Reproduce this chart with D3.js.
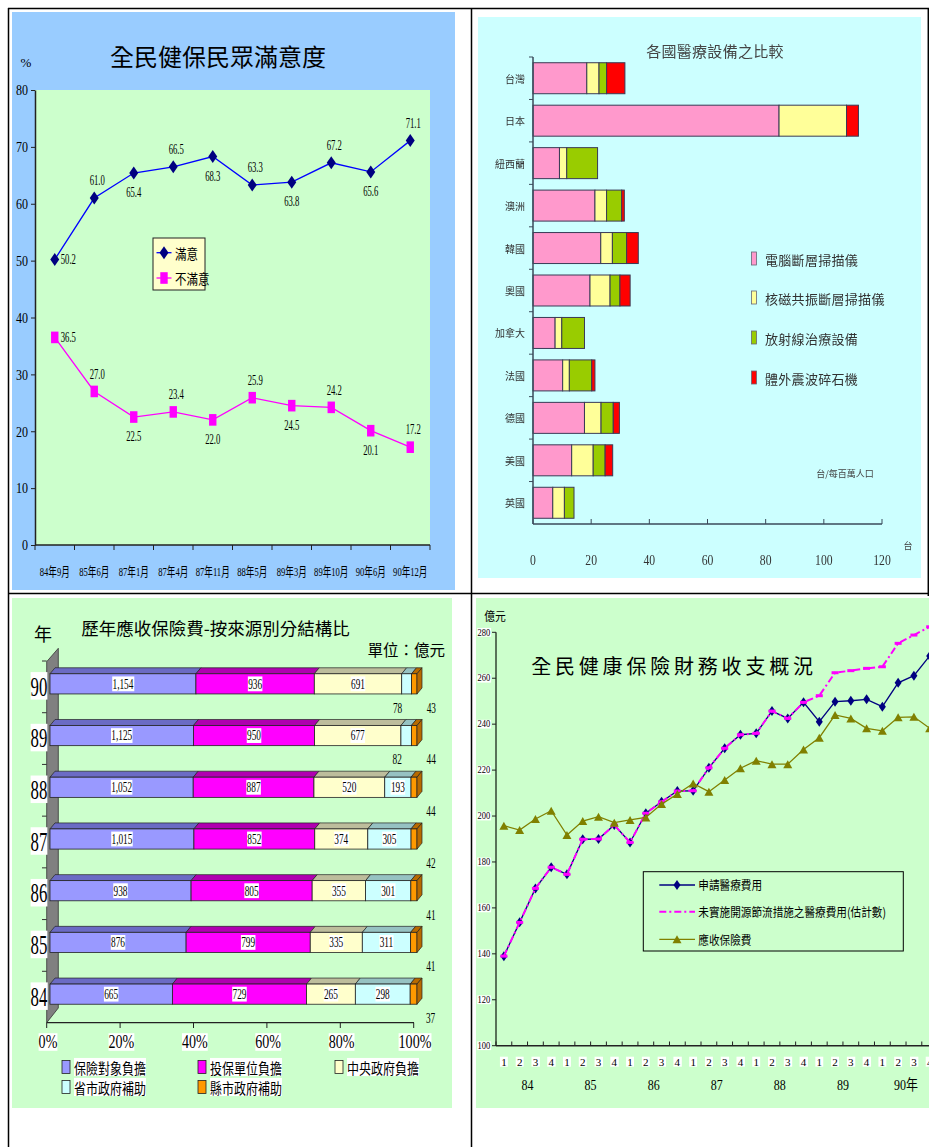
<!DOCTYPE html>
<html><head><meta charset="utf-8">
<script src="https://cdn.jsdelivr.net/npm/d3@7"></script>
<style>body{margin:0;background:#fff;} svg{display:block;}</style>
</head><body>
<script>
// ================= DATA =================
// Panel 1: 全民健保民眾滿意度
const surveyDates = ['84年9月','85年6月','87年1月','87年4月','87年11月','88年5月','89年3月','89年10月','90年6月','90年12月'];
const satisfied = [50.2, 61.0, 65.4, 66.5, 68.3, 63.3, 63.8, 67.2, 65.6, 71.1];
const dissatisfied = [36.5, 27.0, 22.5, 23.4, 22.0, 25.9, 24.5, 24.2, 20.1, 17.2];
const pctTicks = [0, 10, 20, 30, 40, 50, 60, 70, 80];
const satisfactionSeries = ['滿意', '不滿意'];

// Panel 2: 各國醫療設備之比較 (台/每百萬人口)
const countries = ['台灣','日本','紐西蘭','澳洲','韓國','奧國','加拿大','法國','德國','美國','英國'];
const equipmentTypes = ['電腦斷層掃描儀','核磁共振斷層掃描儀','放射線治療設備','體外震波碎石機'];
const ctUnits    = [18.5, 84.6,  9.1, 21.3, 23.3, 19.6, 7.6, 10.2, 17.7, 13.3, 6.8];
const mriUnits   = [ 4.2, 23.2,  2.5,  4.0,  4.0,  6.9, 2.3,  2.3,  5.7,  7.4, 4.0];
const radioUnits = [ 2.6,  0.0, 10.6,  5.2,  4.9,  3.4, 7.8,  7.7,  4.2,  4.1, 3.3];
const lithoUnits = [ 6.3,  4.1,  0.0,  0.9,  4.0,  3.5, 0.0,  1.1,  2.1,  2.6, 0.0];
const unitTicks = [0, 20, 40, 60, 80, 100, 120];

// Panel 3: 歷年應收保險費-按來源別分結構比 (億元)
const fiscalYears = ['90','89','88','87','86','85','84'];
const premiumSources = ['保險對象負擔','投保單位負擔','中央政府負擔','省市政府補助','縣市政府補助'];
const insuredPay    = [1154, 1125, 1052, 1015, 938, 876, 665];
const employerPay   = [ 936,  950,  887,  852, 805, 799, 729];
const centralPay    = [ 691,  677,  520,  374, 355, 335, 265];
const provincialPay = [  78,   82,  193,  305, 301, 311, 298];
const countyPay     = [  43,   44,   44,   42,  41,  41,  37];
const shareTicks = [0, 0.2, 0.4, 0.6, 0.8, 1.0];

// Panel 4: 全民健康保險財務收支概況 (億元, quarterly)
const quarterLabels = ['1','2','3','4','1','2','3','4','1','2','3','4','1','2','3','4','1','2','3','4','1','2','3','4','1','2','3','4'];
const yearLabels = ['84','85','86','87','88','89','90年'];
const financeSeries = ['申請醫療費用','未實施開源節流措施之醫療費用(估計數)','應收保險費'];
const claimedCost   = [139.0,153.7,168.5,177.7,174.6,189.9,190.0,196.1,188.5,201.2,206.2,210.9,211.0,221.0,229.5,235.4,236.0,245.7,242.5,249.5,241.1,249.8,250.2,250.8,247.6,258.0,261.1,269.7];
const estimatedCost = [139.0,153.7,168.5,177.7,174.6,189.9,190.0,196.1,188.5,201.2,206.2,210.9,211.0,221.0,229.5,235.4,236.0,245.7,242.5,249.5,252.4,262.4,263.3,264.3,265.0,275.2,278.8,282.4];
const premiumIncome = [195.8,193.9,198.7,202.3,191.7,197.8,199.7,197.1,198.3,199.4,205.2,209.6,214.2,210.6,215.7,220.8,224.1,222.6,222.6,229.0,234.1,244.0,242.5,238.2,237.1,243.0,243.2,238.2];
const amountTicks = [100, 120, 140, 160, 180, 200, 220, 240, 260, 280];

// ================= HELPERS =================
const SERIF = "'Liberation Serif','Noto Sans CJK TC',serif";
const CJK = "'Noto Sans CJK TC','Noto Sans CJK SC',sans-serif";
// horizontally condense a text about its anchor point (mimics the narrow fonts of the original)
function condense(sel, f) {
  sel.each(function () {
    const x = +this.getAttribute('x') || 0, y = +this.getAttribute('y') || 0;
    this.setAttribute('transform', `translate(${x},${y}) scale(${f},1) translate(${-x},${-y})`);
  });
  return sel;
}
function backdrop(sel, fill, px, py) {
  sel.each(function () {
    const node = this, b = node.getBBox();
    d3.select(node.parentNode).insert('rect', () => node)
      .attr('x', b.x - px).attr('y', b.y - py).attr('width', b.width + 2 * px).attr('height', b.height + 2 * py)
      .attr('transform', node.getAttribute('transform'))
      .attr('fill', fill);
  });
  return sel;
}
const diamond = (w, h) => `M0,${-h/2}L${w/2},0L0,${h/2}L${-w/2},0Z`;
const triangle = (w, h) => `M0,${-h/2}L${w/2},${h/2}L${-w/2},${h/2}Z`;

const svg = d3.select('body').append('svg').attr('width', 929).attr('height', 1147);
svg.append('defs').append('filter').attr('id', 'soft').append('feGaussianBlur').attr('stdDeviation', 0.55);

// ================= PANEL 1 =================
{
  const g = svg.append('g');
  g.append('rect').attr('x', 12).attr('y', 12).attr('width', 443).attr('height', 578).attr('fill', '#99CCFF');
  g.append('rect').attr('x', 35).attr('y', 90).attr('width', 395).attr('height', 455).attr('fill', '#CCFFCC');
  const x = d3.scaleBand().domain(surveyDates).range([35, 430]);
  const y = d3.scaleLinear().domain([0, 80]).range([545, 90]);
  const cx = d => x(d) + x.bandwidth() / 2;

  g.append('text').attr('x', 218).attr('y', 55).attr('text-anchor', 'middle').attr('dominant-baseline', 'central')
    .attr('font-family', CJK).attr('font-size', 24).text('全民健保民眾滿意度');
  g.append('text').attr('x', 26).attr('y', 62).attr('text-anchor', 'middle').attr('dominant-baseline', 'central')
    .attr('font-family', SERIF).attr('font-size', 13).text('%');

  const ya = g.append('g').attr('transform', 'translate(35,0)')
    .call(d3.axisLeft(y).tickValues(pctTicks).tickSize(4).tickSizeOuter(0).tickPadding(3).tickFormat(d3.format('d')));
  ya.select('.domain').attr('stroke', '#222').attr('stroke-width', 1.5);
  ya.selectAll('.tick line').attr('stroke', '#222');
  condense(ya.selectAll('text').attr('font-family', SERIF).attr('font-size', 15).attr('fill', '#000'), 0.8);

  g.append('line').attr('x1', 35).attr('x2', 430).attr('y1', 545).attr('y2', 545).attr('stroke', '#222').attr('stroke-width', 1.5);
  g.selectAll('.xt').data(surveyDates.concat(['end'])).join('line')
    .attr('x1', (d, i) => i < surveyDates.length ? x(d) : 430).attr('x2', (d, i) => i < surveyDates.length ? x(d) : 430)
    .attr('y1', 545).attr('y2', 550).attr('stroke', '#222');
  condense(g.selectAll('.xl').data(surveyDates).join('text').attr('x', cx).attr('y', 571)
    .attr('text-anchor', 'middle').attr('dominant-baseline', 'central')
    .attr('font-family', SERIF).attr('font-size', 13).text(d => d), 0.66);

  const defs = [
    { name: satisfactionSeries[0], values: satisfied, line: '#0000FF', mark: '#000080', shape: 'diamond' },
    { name: satisfactionSeries[1], values: dissatisfied, line: '#FF00FF', mark: '#FF00FF', shape: 'square' }
  ];
  const line = d3.line().x((v, i) => cx(surveyDates[i])).y(v => y(v));
  defs.forEach(s => {
    g.append('path').attr('d', line(s.values)).attr('fill', 'none').attr('stroke', s.line).attr('stroke-width', 1.3);
    const m = g.append('g').selectAll('g').data(s.values).join('g')
      .attr('transform', (v, i) => `translate(${cx(surveyDates[i])},${y(v)})`);
    if (s.shape === 'diamond') m.append('path').attr('d', diamond(9, 13)).attr('fill', s.mark);
    else m.append('rect').attr('x', -3.7).attr('y', -5.8).attr('width', 7.4).attr('height', 11.6).attr('fill', s.mark);
    const lab = g.append('g').selectAll('text').data(s.values).join('text')
      .attr('x', (v, i) => cx(surveyDates[i]) + (i === 0 ? 6 : i % 2 ? 3 : 0))
      .attr('y', (v, i) => y(v) + (i === 0 ? 0 : i % 2 ? -17 : 20))
      .attr('text-anchor', (v, i) => i === 0 ? 'start' : 'middle').attr('dominant-baseline', 'central')
      .attr('font-family', SERIF).attr('font-size', 14).text(d3.format('.1f'));
    condense(lab, 0.62);
  });

  // legend
  const lg = g.append('g');
  lg.append('rect').attr('x', 153).attr('y', 238).attr('width', 52).attr('height', 52).attr('fill', '#FFFFCC').attr('stroke', '#222');
  defs.forEach((s, k) => {
    const yy = 252.7 + k * 25.3;
    lg.append('line').attr('x1', 156.5).attr('x2', 171.5).attr('y1', yy).attr('y2', yy).attr('stroke', s.line).attr('stroke-width', 1.3);
    if (s.shape === 'diamond') lg.append('path').attr('transform', `translate(164,${yy})`).attr('d', diamond(9, 13)).attr('fill', s.mark);
    else lg.append('rect').attr('x', 160.3).attr('y', yy - 5.8).attr('width', 7.4).attr('height', 11.6).attr('fill', s.mark);
    condense(lg.append('text').attr('x', 175).attr('y', yy).attr('dominant-baseline', 'central')
      .attr('font-family', CJK).attr('font-size', 14).text(s.name), 0.82);
  });
}

// ================= PANEL 2 =================
{
  const g = svg.append('g').attr('filter', 'url(#soft)');
  g.append('rect').attr('x', 478).attr('y', 17).attr('width', 443).attr('height', 561).attr('fill', '#CCFFFF');
  const x = d3.scaleLinear().domain([0, 120]).range([533, 882]);
  const y = d3.scaleBand().domain(countries).range([57, 524]).paddingInner(0.27).paddingOuter(0.135);
  const table = countries.map((c, i) => ({ country: c, ct: ctUnits[i], mri: mriUnits[i], radio: radioUnits[i], litho: lithoUnits[i] }));
  const keys = ['ct', 'mri', 'radio', 'litho'];
  const colors = ['#FF99CC', '#FFFF99', '#99CC00', '#FF0000'];
  const stack = d3.stack().keys(keys)(table);

  g.append('text').attr('x', 715).attr('y', 50).attr('text-anchor', 'middle').attr('dominant-baseline', 'central')
    .attr('font-family', CJK).attr('font-size', 15).attr('letter-spacing', 0.3).attr('fill', '#444').text('各國醫療設備之比較');

  stack.forEach((layer, k) => {
    g.append('g').selectAll('rect').data(layer.filter(d => d[1] > d[0])).join('rect')
      .attr('x', d => x(d[0])).attr('y', d => y(d.data.country))
      .attr('width', d => x(d[1]) - x(d[0])).attr('height', y.bandwidth())
      .attr('fill', colors[k]).attr('stroke', '#3a3a55').attr('stroke-width', 1);
  });

  // axes
  g.append('line').attr('x1', 533).attr('x2', 533).attr('y1', 57).attr('y2', 524).attr('stroke', '#3a4a5a').attr('stroke-width', 1.5);
  g.append('line').attr('x1', 533).attr('x2', 882).attr('y1', 524).attr('y2', 524).attr('stroke', '#3a4a5a').attr('stroke-width', 1.5);
  g.selectAll('.yt').data(countries).join('line')
    .attr('x1', 529).attr('x2', 533).attr('y1', d => y(d) - y.step() * y.paddingInner() / 2).attr('y2', d => y(d) - y.step() * y.paddingInner() / 2)
    .attr('stroke', '#3a4a5a');
  g.selectAll('.xt').data(unitTicks).join('line')
    .attr('x1', d => x(d)).attr('x2', d => x(d)).attr('y1', 519).attr('y2', 524).attr('stroke', '#3a4a5a');
  condense(g.selectAll('.xl').data(unitTicks).join('text').attr('x', d => x(d)).attr('y', 560)
    .attr('text-anchor', 'middle').attr('dominant-baseline', 'central')
    .attr('font-family', SERIF).attr('font-size', 15).attr('fill', '#333').text(d => d), 0.78);
  g.selectAll('.yl').data(countries).join('text').attr('x', 525).attr('y', d => y(d) + y.bandwidth() / 2)
    .attr('text-anchor', 'end').attr('dominant-baseline', 'central')
    .attr('font-family', CJK).attr('font-size', 10).attr('fill', '#333').text(d => d);

  // legend
  const ly = [259, 298, 338, 378];
  equipmentTypes.forEach((name, k) => {
    g.append('rect').attr('x', 751.5).attr('y', ly[k] - 7).attr('width', 5).attr('height', 13)
      .attr('fill', colors[k]).attr('stroke', '#667').attr('stroke-width', 0.8);
    g.append('text').attr('x', 765).attr('y', ly[k]).attr('dominant-baseline', 'central')
      .attr('font-family', CJK).attr('font-size', 13).attr('letter-spacing', 0.3).attr('fill', '#333').text(name);
  });
  g.append('text').attr('x', 845).attr('y', 473).attr('text-anchor', 'middle').attr('dominant-baseline', 'central')
    .attr('font-family', CJK).attr('font-size', 9).attr('fill', '#444').text('台/每百萬人口');
  g.append('text').attr('x', 908).attr('y', 545).attr('text-anchor', 'middle').attr('dominant-baseline', 'central')
    .attr('font-family', CJK).attr('font-size', 9).attr('fill', '#444').text('台');
}

// ================= PANEL 3 =================
{
  const g = svg.append('g');
  g.append('rect').attr('x', 12).attr('y', 598).attr('width', 440).attr('height', 510).attr('fill', '#CCFFCC');
  const x = d3.scaleLinear().domain([0, 1]).range([50, 417]);
  const y = d3.scaleBand().domain(fiscalYears).range([658, 1020]).paddingInner(0.61).paddingOuter(0.305);
  const table = fiscalYears.map((yr, i) => ({ year: yr, a: insuredPay[i], b: employerPay[i], c: centralPay[i], d: provincialPay[i], e: countyPay[i] }));
  const keys = ['a', 'b', 'c', 'd', 'e'];
  const front = ['#9999FF', '#FF00FF', '#FFFFCC', '#CCFFFF', '#FF9900'];
  const top = ['#6B6BC4', '#B000B0', '#BDBD9C', '#96C2C2', '#B86A00'];
  const stack = d3.stack().keys(keys).offset(d3.stackOffsetExpand)(table);
  const dx = 5, dy = 6;

  g.append('text').attr('x', 215.5).attr('y', 627).attr('text-anchor', 'middle').attr('dominant-baseline', 'central')
    .attr('font-family', CJK).attr('font-size', 17.5).text('歷年應收保險費-按來源別分結構比');
  g.append('text').attr('x', 43).attr('y', 633).attr('text-anchor', 'middle').attr('dominant-baseline', 'central')
    .attr('font-family', CJK).attr('font-size', 18).text('年');
  g.append('text').attr('x', 445).attr('y', 649).attr('text-anchor', 'end').attr('dominant-baseline', 'central')
    .attr('font-family', CJK).attr('font-size', 15.5).text('單位：億元');

  // wall
  g.append('path').attr('d', 'M46.7,661.7L58.3,648.3L58.3,1008L46.7,1022.7Z').attr('fill', '#808080').attr('stroke', '#333').attr('stroke-width', 0.8);
  g.selectAll('.yt').data(fiscalYears).join('line')
    .attr('x1', 42).attr('x2', 46.7)
    .attr('y1', d => y(d) - y.step() * y.paddingInner() / 2 + 3).attr('y2', d => y(d) - y.step() * y.paddingInner() / 2 + 3)
    .attr('stroke', '#333');
  // floor edge + ticks
  g.append('line').attr('x1', 46.7).attr('x2', x(1) - 3).attr('y1', 1022.7).attr('y2', 1022.7).attr('stroke', '#222').attr('stroke-width', 1.2);
  g.selectAll('.xt').data(shareTicks).join('line')
    .attr('x1', d => x(d) - 3.3).attr('x2', d => x(d) - 3.3).attr('y1', 1022.7).attr('y2', 1028).attr('stroke', '#222');

  // bars
  const fmt = d3.format(',');
  table.forEach((row, r) => {
    const yy = y(row.year), h = y.bandwidth();
    const bg = g.append('g');
    stack.forEach((layer, k) => {
      const d = layer[r];
      const x0 = x(d[0]), x1 = x(d[1]);
      bg.append('path').attr('d', `M${x0},${yy}L${x0 + dx},${yy - dy}L${x1 + dx},${yy - dy}L${x1},${yy}Z`)
        .attr('fill', top[k]).attr('stroke', '#222').attr('stroke-width', 0.7);
      bg.append('rect').attr('x', x0).attr('y', yy).attr('width', x1 - x0).attr('height', h)
        .attr('fill', front[k]).attr('stroke', '#222').attr('stroke-width', 0.8);
      if (k === keys.length - 1)
        bg.append('path').attr('d', `M${x1},${yy}L${x1 + dx},${yy - dy}L${x1 + dx},${yy + h - dy}L${x1},${yy + h}Z`)
          .attr('fill', top[k]).attr('stroke', '#222').attr('stroke-width', 0.7);
    });
    stack.forEach((layer, k) => {
      const d = layer[r];
      const x0 = x(d[0]), x1 = x(d[1]), w = x1 - x0;
      const v = row[keys[k]];
      const inside = w >= 22;
      const t = g.append('text')
        .attr('x', inside ? (x0 + x1) / 2 : (x0 + x1) / 2 + (k === 3 ? -9 : 17))
        .attr('y', inside ? yy + h / 2 : yy + h / 2 + 24)
        .attr('text-anchor', 'middle').attr('dominant-baseline', 'central')
        .attr('font-family', SERIF).attr('font-size', 15).text(fmt(v));
      condense(t, 0.62);
      if (inside) backdrop(t, '#fff', 0.5, -1);
    });
  });

  // year labels
  const yl = g.selectAll('.yl').data(fiscalYears).join('text')
    .attr('x', 39).attr('y', d => y(d) + y.bandwidth() / 2 + 2)
    .attr('text-anchor', 'middle').attr('dominant-baseline', 'central')
    .attr('font-family', SERIF).attr('font-size', 28).text(d => d);
  condense(yl, 0.6); backdrop(yl, '#fff', 0, -2);

  const xl = g.selectAll('.xl').data(shareTicks).join('text')
    .attr('x', d => x(d) - 2).attr('y', 1042)
    .attr('text-anchor', 'middle').attr('dominant-baseline', 'central')
    .attr('font-family', SERIF).attr('font-size', 19).text(d3.format('.0%'));
  condense(xl, 0.74); backdrop(xl, '#fff', 0, -2);

  // legend
  const pos = [[62, 1067], [198, 1067], [335, 1067], [62, 1087], [198, 1087]];
  premiumSources.forEach((name, k) => {
    const [lx, ly] = pos[k];
    g.append('rect').attr('x', lx).attr('y', ly - 6.5).attr('width', 8).attr('height', 13)
      .attr('fill', front[k]).attr('stroke', '#222').attr('stroke-width', 0.8);
    const t = g.append('text').attr('x', lx + 12).attr('y', ly).attr('dominant-baseline', 'central')
      .attr('font-family', CJK).attr('font-size', 15).text(name);
    condense(t, 0.8); backdrop(t, '#fff', 0, -2);
  });
}

// ================= PANEL 4 =================
{
  const g = svg.append('g');
  g.append('rect').attr('x', 476).attr('y', 598).attr('width', 460).attr('height', 510).attr('fill', '#CCFFCC');
  const idx = quarterLabels.map((q, i) => i);
  const x = d3.scaleBand().domain(idx).range([496, 496 + 15.77 * quarterLabels.length]);
  const y = d3.scaleLinear().domain([100, 280]).range([1045.7, 632.3]);
  const cx = i => x(i) + x.bandwidth() / 2;

  g.append('text').attr('x', 674).attr('y', 665).attr('text-anchor', 'middle').attr('dominant-baseline', 'central')
    .attr('font-family', CJK).attr('font-size', 20).attr('letter-spacing', 3.8).text('全民健康保險財務收支概況');
  condense(g.append('text').attr('x', 495).attr('y', 616).attr('text-anchor', 'middle').attr('dominant-baseline', 'central')
    .attr('font-family', CJK).attr('font-size', 12).text('億元'), 0.9);

  // axes
  g.append('line').attr('x1', 496).attr('x2', 496).attr('y1', 632.3).attr('y2', 1045.7).attr('stroke', '#334433').attr('stroke-width', 1.5);
  g.append('line').attr('x1', 496).attr('x2', 940).attr('y1', 1045.7).attr('y2', 1045.7).attr('stroke', '#222').attr('stroke-width', 1.5);
  g.selectAll('.yt').data(amountTicks).join('line').attr('x1', 492).attr('x2', 496)
    .attr('y1', d => y(d)).attr('y2', d => y(d)).attr('stroke', '#222');
  const yl = g.selectAll('.yl').data(amountTicks).join('text').attr('x', 484).attr('y', d => y(d))
    .attr('text-anchor', 'middle').attr('dominant-baseline', 'central')
    .attr('font-family', SERIF).attr('font-size', 10).text(d => d);
  condense(yl, 0.85); backdrop(yl, '#fff', 0.5, -1);
  g.selectAll('.xt').data(idx).join('line').attr('x1', i => x(i)).attr('x2', i => x(i))
    .attr('y1', 1041.5).attr('y2', 1045.7).attr('stroke', '#222');
  const ql = g.selectAll('.ql').data(idx).join('text').attr('x', cx).attr('y', 1061.7)
    .attr('text-anchor', 'middle').attr('dominant-baseline', 'central')
    .attr('font-family', SERIF).attr('font-size', 11).text(i => quarterLabels[i]);
  backdrop(ql, '#fff', 1.2, -1);
  condense(g.selectAll('.yrl').data(yearLabels).join('text')
    .attr('x', (d, k) => x(4 * k) + 2 * x.bandwidth()).attr('y', 1085)
    .attr('text-anchor', 'middle').attr('dominant-baseline', 'central')
    .attr('font-family', SERIF).attr('font-size', 15).text(d => d), 0.8);

  const line = d3.line().x((v, i) => cx(i)).y(v => y(v));
  // series 1: claimed
  g.append('path').attr('d', line(claimedCost)).attr('fill', 'none').attr('stroke', '#000080').attr('stroke-width', 1.3);
  g.append('g').selectAll('path').data(claimedCost).join('path')
    .attr('transform', (v, i) => `translate(${cx(i)},${y(v)})`).attr('d', diamond(7, 10)).attr('fill', '#000080');
  // series 2: estimated
  g.append('path').attr('d', line(estimatedCost)).attr('fill', 'none').attr('stroke', '#FF00FF').attr('stroke-width', 2)
    .attr('stroke-dasharray', '7,3,2,3');
  g.append('g').selectAll('rect').data(estimatedCost).join('rect')
    .attr('x', (v, i) => cx(i) - 3.5).attr('y', v => y(v) - 1.5).attr('width', 7).attr('height', 3).attr('fill', '#FF00FF');
  // series 3: premium
  g.append('path').attr('d', line(premiumIncome)).attr('fill', 'none').attr('stroke', '#808000').attr('stroke-width', 1.3);
  g.append('g').selectAll('path').data(premiumIncome).join('path')
    .attr('transform', (v, i) => `translate(${cx(i)},${y(v)})`).attr('d', triangle(9, 8)).attr('fill', '#808000');

  // legend
  const lg = g.append('g');
  lg.append('rect').attr('x', 643.3).attr('y', 871.7).attr('width', 260).attr('height', 79.3).attr('fill', 'none').attr('stroke', '#000');
  const ly = [885, 911.7, 939.3];
  lg.append('line').attr('x1', 659.3).attr('x2', 695).attr('y1', ly[0]).attr('y2', ly[0]).attr('stroke', '#000080').attr('stroke-width', 1.3);
  lg.append('path').attr('transform', `translate(677,${ly[0]})`).attr('d', diamond(7, 10)).attr('fill', '#000080');
  lg.append('line').attr('x1', 659.3).attr('x2', 695).attr('y1', ly[1]).attr('y2', ly[1]).attr('stroke', '#FF00FF').attr('stroke-width', 2).attr('stroke-dasharray', '7,3,2,3');
  lg.append('line').attr('x1', 659.3).attr('x2', 695).attr('y1', ly[2]).attr('y2', ly[2]).attr('stroke', '#808000').attr('stroke-width', 1.3);
  lg.append('path').attr('transform', `translate(677,${ly[2]})`).attr('d', triangle(9, 8)).attr('fill', '#808000');
  financeSeries.forEach((name, k) => {
    condense(lg.append('text').attr('x', 698.3).attr('y', ly[k]).attr('dominant-baseline', 'central')
      .attr('font-family', CJK).attr('font-size', 12.5).text(name), 0.85);
  });
}

// ================= TABLE BORDERS =================
{
  const b = svg.append('g').attr('stroke', '#000').attr('stroke-width', 1.5);
  b.append('line').attr('x1', 8).attr('x2', 929).attr('y1', 8.5).attr('y2', 8.5);
  b.append('line').attr('x1', 8).attr('x2', 929).attr('y1', 593.5).attr('y2', 593.5);
  b.append('line').attr('x1', 8.5).attr('x2', 8.5).attr('y1', 8).attr('y2', 1147);
  b.append('line').attr('x1', 471.5).attr('x2', 471.5).attr('y1', 8).attr('y2', 1147);
  b.append('line').attr('x1', 928.3).attr('x2', 928.3).attr('y1', 8).attr('y2', 596);
}
</script>
</body></html>
